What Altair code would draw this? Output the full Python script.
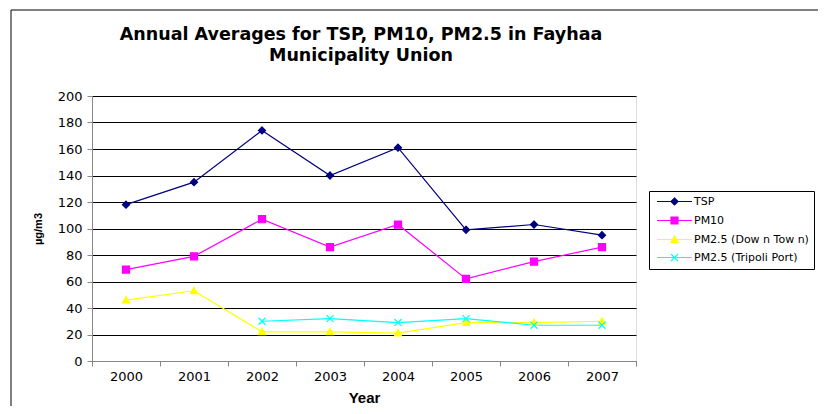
import altair as alt
import pandas as pd

# ---- data ----
YEARS = ["2000", "2001", "2002", "2003", "2004", "2005", "2006", "2007"]
TSP = [118, 135, 174, 140, 161, 99, 103, 95]
PM10 = [69, 79, 107, 86, 103, 62, 75, 86]
PM25_DOWNTOWN = [46, 53, 22, 22, 21, 29, 29, 30]
PM25_PORT = [None, None, 30, 32, 29, 32, 27, 27]
SERIES = ["TSP", "PM10", "PM2.5 (Dow n Tow n)", "PM2.5 (Tripoli Port)"]
COLORS = ["#000080", "#FF00FF", "#FFFF00", "#00FFFF"]
Y_TICKS = [0, 20, 40, 60, 80, 100, 120, 140, 160, 180, 200]
TITLE = ["Annual Averages for TSP, PM10, PM2.5 in Fayhaa", "Municipality Union"]

MARKERS = ["M0,-1L1,0L0,1L-1,0Z", "M-1,-1L1,-1L1,1L-1,1Z",
           "M0,-1L1,0.8L-1,0.8Z", "M-1,-1L1,1M-1,1L1,-1"]
LEGEND_SHAPES = ["M-5,0L5,0" + m for m in MARKERS]

rows = []
for s, vals in zip(SERIES, [TSP, PM10, PM25_DOWNTOWN, PM25_PORT]):
    for yr, v in zip(YEARS, vals):
        if v is not None:
            rows.append({"year": yr, "series": s, "value": v})
df = pd.DataFrame(rows)

FONT = "DejaVu Sans"

x_enc = alt.X("year:O", sort=YEARS, bandPosition=0.5,
              scale=alt.Scale(type="band", paddingInner=0, paddingOuter=0),
              axis=alt.Axis(title="Year", tickBand="extent", labelAngle=0, grid=False,
                            labelPadding=4, labelFont=FONT, labelFontSize=13,
                            titleFontSize=15, titleY=36, titleBaseline="middle"))
y_enc = alt.Y("value:Q", scale=alt.Scale(domain=[0, 200], nice=False),
              axis=alt.Axis(values=Y_TICKS, title="µg/m3", grid=True, gridColor="black",
                            gridOpacity=1, labelPadding=5, labelFont=FONT, labelFontSize=13,
                            titleX=-54, titleY=132.5,
                            titleAngle=-90, titleAlign="center", titleBaseline="middle",
                            titleFontSize=11))

col_scale = alt.Scale(domain=SERIES, range=COLORS)
shape_scale = alt.Scale(domain=SERIES, range=LEGEND_SHAPES)
leg = alt.Legend(title=None, orient="none", legendX=557, legendY=95,
                 strokeColor="black", fillColor="white", padding=5,
                 labelFont=FONT, labelFontSize=11, labelColor="black",
                 symbolSize=49, symbolOffset=15, labelOffset=14, rowPadding=6,
                 symbolStrokeWidth=1.2)

base = alt.Chart(df)

lines = base.mark_line(strokeWidth=1.2).encode(
    x=x_enc, y=y_enc,
    stroke=alt.Stroke("series:N", scale=col_scale, legend=leg),
)

point_layers = []
for s, m in zip(SERIES, MARKERS):
    point_layers.append(
        base.transform_filter(alt.datum.series == s)
        .mark_point(filled=True, shape=m, size=50, strokeWidth=1.2, opacity=1)
        .encode(
            x=x_enc, y=y_enc,
            fill=alt.Fill("series:N", scale=col_scale, legend=leg),
            stroke=alt.Stroke("series:N", scale=col_scale, legend=leg),
        )
    )

legend_layer = base.mark_point(filled=True, strokeWidth=1.2, opacity=1, clip=True).encode(
    x=alt.value(-40), y=alt.value(-40),
    fill=alt.Fill("series:N", scale=col_scale, legend=leg),
    stroke=alt.Stroke("series:N", scale=col_scale, legend=leg),
    shape=alt.Shape("series:N", scale=shape_scale, legend=leg),
)

frame_df = pd.DataFrame({"k": [0]})
frame_left = alt.Chart(frame_df).mark_rule(color="black", strokeWidth=1).encode(
    x=alt.value(-81), y=alt.value(-86), y2=alt.value(330))
frame_top = alt.Chart(frame_df).mark_rule(color="black", strokeWidth=1).encode(
    x=alt.value(-81), x2=alt.value(740), y=alt.value(-86))

chart = alt.layer(frame_left, frame_top, lines, *point_layers, legend_layer).properties(
    width=544, height=265,
    autosize=alt.AutoSizeParams(type="none"),
    padding={"left": 84, "top": 88, "right": 182, "bottom": 45},
    title=alt.TitleParams(TITLE, font=FONT, fontSize=17.5, fontWeight="bold",
                          lineHeight=21, anchor="middle", offset=0, dy=55, dx=-3,
                          color="black", frame="group"),
).configure_view(
    fill="#C0C0C0", stroke="#808080", strokeWidth=1
).configure_axis(
    labelColor="black",
    titleFont=FONT, titleFontWeight="bold", titleColor="black",
    tickColor="black", domainColor="black", tickSize=5, domainWidth=1
).configure(background="white")

chart.save("out.html", embed_options={"renderer": "svg", "actions": False})
